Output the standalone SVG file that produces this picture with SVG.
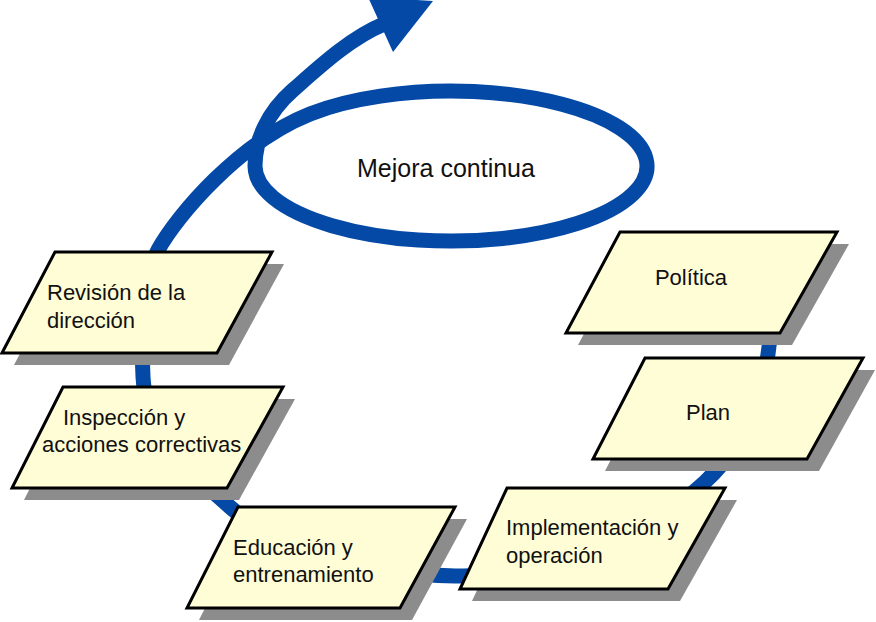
<svg xmlns="http://www.w3.org/2000/svg" width="876" height="622" viewBox="0 0 876 622">
<style>
.ring{fill:none;stroke:#0349A5;stroke-width:15}
.shadow{fill:#8C8C8C}
.box{fill:#FFFDD5;stroke:#000;stroke-width:3;stroke-linejoin:miter}
.t{font-family:"Liberation Sans",Arial,sans-serif;font-size:22px;fill:#111}
</style>
<rect width="876" height="622" fill="#fff"/>
<g id="connectors">
<path class="ring" d="M 771 270 C 774 330, 772 420, 705 482 C 638 544, 540 578, 455 576 C 370 574, 285 555, 230 507 C 175 459, 145 420, 143 377 C 141 334, 145 275, 158 250 C 178 214, 240 142, 310 114 A 196 75 0 1 1 255 166 C 255 140, 268 112, 293 90 C 318 68, 350 38, 384 24"/>
<polygon points="393,52 368,-3 433,1" fill="#0349A5"/>
</g>
<g id="mejora">
<text class="t" x="446" y="177" text-anchor="middle" style="font-size:25px">Mejora continua</text>
</g>
<g id="revision">
<polygon class="shadow" points="67,264 284,264 229,365 14,365"/>
<polygon class="box" points="55,252 272,252 217,353 2,353"/>
<text class="t" x="47" y="300">Revisión de la</text>
<text class="t" x="47" y="328">dirección</text>
</g>
<g id="inspeccion">
<polygon class="shadow" points="75,399 295,399 239,500 24,500"/>
<polygon class="box" points="63,387 283,387 227,488 12,488"/>
<text class="t" x="63" y="425">Inspección y</text>
<text class="t" x="42" y="452">acciones correctivas</text>
</g>
<g id="educacion">
<polygon class="shadow" points="250,519 467,519 412,620 199,620"/>
<polygon class="box" points="238,507 455,507 400,608 187,608"/>
<text class="t" x="233" y="555">Educación y</text>
<text class="t" x="233" y="582">entrenamiento</text>
</g>
<g id="implementacion">
<polygon class="shadow" points="519,500 737,500 680,601 472,601"/>
<polygon class="box" points="507,488 725,488 668,589 460,589"/>
<text class="t" x="506" y="535">Implementación y</text>
<text class="t" x="506" y="563">operación</text>
</g>
<g id="plan">
<polygon class="shadow" points="657,370 875,370 819,471 605,471"/>
<polygon class="box" points="645,358 863,358 807,459 593,459"/>
<text class="t" x="708" y="420" text-anchor="middle">Plan</text>
</g>
<g id="politica">
<polygon class="shadow" points="632,244 849,244 792,345 578,345"/>
<polygon class="box" points="620,232 837,232 780,333 566,333"/>
<text class="t" x="691" y="285" text-anchor="middle">Política</text>
</g>
</svg>
